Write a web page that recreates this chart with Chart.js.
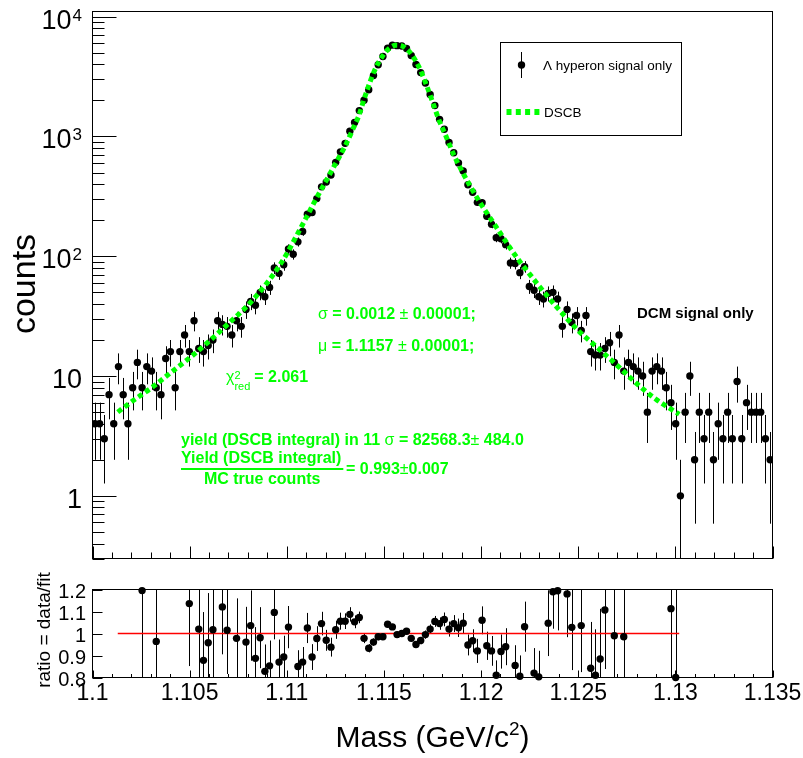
<!DOCTYPE html>
<html>
<head>
<meta charset="utf-8">
<title>Lambda hyperon mass fit</title>
<script src="https://cdn.jsdelivr.net/npm/chart.js@4.4.1/dist/chart.umd.min.js"></script>
<style>
  body { margin: 0; background: #ffffff; }
  #box { position: relative; width: 803px; height: 758px; }
  #box canvas { position: absolute; left: 0; top: 0; }
</style>
</head>
<body>
<div id="box">
  <canvas id="mainPad" width="803" height="758"></canvas>
  <canvas id="ratioPad" width="803" height="758"></canvas>
</div>
<script>
// histogram binning of the mass axis
const massMin = 1.1;
const massMax = 1.135;
const nBins = 144;

// counts per bin
const counts = [
  4, 4, 3, 7, 4, 12, 7, 4, 8, 13,
  8, 12, 11, 8, 7, 14, 16, 8, 16, 22,
  16, 29, 17, 16, 18, 20, 29, 27, 26, 22,
  29, 26, 36, 42, 39, 50, 46, 55, 80, 72,
  85, 115, 104, 132, 161, 224, 232, 303, 380, 416,
  477, 608, 744, 876, 1107, 1307, 1645, 2005, 2454, 3229,
  3965, 4649, 5470, 5789, 5731, 5690, 5424, 4743, 3990, 3414,
  2796, 2244, 1815, 1390, 1149, 890, 732, 602, 515, 396,
  342, 282, 280, 216, 185, 143, 140, 125, 88, 87,
  73, 82, 56, 52, 46, 44, 49, 50, 44, 26,
  36, 28, 32, 24, 32, 16, 15, 15, 17, 19,
  13, 22, 11, 13, 12, 11, 10, 5, 11, 12,
  11, 8, 6, 4, 1, 5, 10, 2, 5, 3,
  5, 2, 4, 3, 5, 3, 9, 3, 6, 5,
  5, 5, 3, 2
];

// data/fit per bin, null where the point is outside the 0.8 - 1.2 window
const ratios = [
  null, null, null, null, null, null, null, null, null, null,
  1.195, null, null, 0.964, null, null, null, null, null, null,
  1.136, null, 1.02, 0.878, 0.958, 1.017, null, 1.121, 1.015, null,
  0.978, null, 0.961, 1.036, 0.887, 0.981, 0.828, 0.853, 1.096, 0.87,
  0.893, 1.029, null, 0.85, 0.87, 1.025, 0.893, 0.977, 1.045, 0.969,
  0.938, 1.017, 1.056, 1.056, 1.087, 1.053, 1.073, 0.978, 0.933, 0.961,
  0.985, 0.985, 1.042, 1.03, 0.995, 1.0, 1.01, 0.978, 0.95, 0.968,
  0.995, 1.02, 1.055, 1.045, 1.064, 1.02, 1.045, 1.026, 1.047, 0.948,
  0.967, 0.921, 1.06, 0.944, 0.921, 0.81, 0.918, 0.94, null, 0.855,
  0.806, 1.031, null, 0.82, 0.803, null, 1.047, 1.19, 1.194, null,
  1.18, 1.028, null, 1.036, null, 0.842, 0.81, 0.884, 1.107, null,
  0.99, null, 0.985, null, null, null, null, null, null, null,
  null, null, 1.113, 0.8, null, null, null, null, null, null,
  null, null, null, null, null, null, null, null, null, null,
  null, null, null, null
];

// DSCB fit curve
const fitMass = [
  1.1013, 1.1020, 1.1030, 1.1040, 1.1050, 1.1060, 1.1070, 1.1080, 1.1088, 1.1095,
  1.1100, 1.1105, 1.1110, 1.1115, 1.1120, 1.1125, 1.1130, 1.1134, 1.1137, 1.1140,
  1.1145, 1.1150, 1.1153, 1.1156, 1.1159, 1.1162, 1.1165, 1.1168, 1.1171, 1.1175,
  1.1178, 1.1182, 1.1186, 1.1190, 1.1195, 1.1200, 1.1205, 1.1210, 1.1215, 1.1220,
  1.1225, 1.1230, 1.1240, 1.1250, 1.1260, 1.1270, 1.1280, 1.1290, 1.1302
];
const fitCounts = [
  5.0, 6.1, 7.9, 10.6, 14.2, 19.5, 27.5, 39, 55, 78,
  105, 148, 210, 300, 420, 590, 830, 1150, 1480, 2100,
  3500, 4880, 5480, 5780, 5720, 5320, 4640, 3810, 2930, 1950,
  1420, 1000, 700, 520, 370, 272, 205, 155, 117, 90,
  71, 56, 36, 24, 17.2, 12.3, 8.7, 6.4, 4.8
];

// tick labels
const xTickValues = [1.1, 1.105, 1.11, 1.115, 1.12, 1.125, 1.13, 1.135];
const xTickLabels = ['1.1', '1.105', '1.11', '1.115', '1.12', '1.125', '1.13', '1.135'];
const countDecades = [0, 1, 2, 3, 4];
const ratioTickValues = [0.8, 0.9, 1, 1.1, 1.2];
const ratioTickLabels = ['0.8', '0.9', '1', '1.1', '1.2'];

const SANS = '"Liberation Sans", Arial, Helvetica, sans-serif';
const GREEN = '#00ff00';
const RED = '#ff0000';
const DOT = 3.7;

const binWidth = (massMax - massMin) / nBins;
const binCenter = k => massMin + (k + 0.5) * binWidth;

const dataPoints = counts.map((c, k) => ({ x: binCenter(k), y: c }));
const fitPoints = fitMass.map((m, i) => ({ x: m, y: fitCounts[i] }));
const ratioPoints = [];
ratios.forEach((r, k) => {
  if (r !== null) ratioPoints.push({ x: binCenter(k), y: r, n: counts[k] });
});

function line(ctx, x1, y1, x2, y2)
{
  ctx.moveTo(x1, y1);
  ctx.lineTo(x2, y2);
}

// draws a run of [text, font] pieces, returns end x
function richText(ctx, x, y, parts)
{
  let cx = x;
  for (const p of parts)
  {
    ctx.font = p[1];
    ctx.fillText(p[0], cx, y);
    cx += ctx.measureText(p[0]).width;
  }
  return cx;
}

const mainDecor =
{
  id: 'mainDecor',
  beforeDatasetsDraw(chart)
  {
    const { ctx, chartArea: a, scales: { x, y } } = chart;
    ctx.save();
    ctx.beginPath();
    ctx.rect(a.left, a.top, a.right - a.left, a.bottom - a.top);
    ctx.clip();
    ctx.strokeStyle = '#000';
    ctx.lineWidth = 1;
    ctx.beginPath();
    dataPoints.forEach(p => {
      const e = Math.sqrt(p.y);
      const px = Math.round(x.getPixelForValue(p.x)) + 0.5;
      const top = y.getPixelForValue(p.y + e);
      const bot = p.y - e > 0 ? y.getPixelForValue(p.y - e) : a.bottom;
      line(ctx, px, top, px, bot);
    });
    ctx.stroke();
    ctx.restore();
  },
  afterDraw(chart)
  {
    const { ctx, chartArea: a, scales: { x, y } } = chart;
    ctx.save();
    ctx.strokeStyle = '#000';
    ctx.lineWidth = 1;
    ctx.strokeRect(a.left, a.top, a.right - a.left, a.bottom - a.top);

    // ticks
    ctx.beginPath();
    for (let i = 0; i <= 35; i++)
    {
      const px = Math.round(x.getPixelForValue(massMin + i * 0.001)) + 0.5;
      line(ctx, px, a.bottom, px, a.bottom - (i % 5 === 0 ? 12 : 6));
    }
    for (let d = -1; d <= 4; d++)
    {
      for (let m = 1; m <= 9; m++)
      {
        const v = m * Math.pow(10, d);
        if (v < y.min || v > y.max) continue;
        const py = Math.round(y.getPixelForValue(v)) + 0.5;
        line(ctx, a.left, py, a.left + (m === 1 ? 24 : 12), py);
      }
    }
    ctx.stroke();

    // y labels
    ctx.fillStyle = '#000';
    ctx.textBaseline = 'alphabetic';
    const labelRight = 82;
    countDecades.forEach(d => {
      const py = y.getPixelForValue(Math.pow(10, d));
      const base = py + 12;
      ctx.textAlign = 'left';
      if (d < 2)
      {
        const t = d === 0 ? '1' : '10';
        ctx.font = '27px ' + SANS;
        ctx.fillText(t, labelRight - ctx.measureText(t).width, base);
      }
      else
      {
        ctx.font = '17px ' + SANS;
        const we = ctx.measureText(String(d)).width;
        ctx.font = '27px ' + SANS;
        const wb = ctx.measureText('10').width;
        ctx.fillText('10', labelRight - we - 1 - wb, base);
        ctx.font = '17px ' + SANS;
        ctx.fillText(String(d), labelRight - we, base - 8);
      }
    });

    // y title
    ctx.save();
    ctx.translate(35, 284);
    ctx.rotate(-Math.PI / 2);
    ctx.textAlign = 'center';
    ctx.font = '34px ' + SANS;
    ctx.fillText('counts', 0, 0);
    ctx.restore();

    // fit results
    const B = 'bold 16px ' + SANS;
    const R = '16px ' + SANS;
    ctx.textAlign = 'left';
    ctx.fillStyle = GREEN;
    richText(ctx, 318, 319, [['σ', R], [' = 0.0012 ', B], ['±', R], [' 0.00001;', B]]);
    richText(ctx, 318, 351, [['μ', R], [' = 1.1157 ', B], ['±', R], [' 0.00001;', B]]);
    ctx.font = R;
    ctx.fillText('χ', 226, 382);
    const cx = 226 + ctx.measureText('χ').width;
    ctx.font = '11px ' + SANS;
    ctx.fillText('2', cx, 379);
    ctx.fillText('red', cx, 390);
    const cEnd = cx + ctx.measureText('red').width + 4;
    ctx.font = B;
    ctx.fillText('= 2.061', cEnd, 382);

    richText(ctx, 181, 445, [['yield (DSCB integral) in 11 ', B], ['σ', R], [' = 82568.3', B], ['±', R], [' 484.0', B]]);
    ctx.font = B;
    const numW = ctx.measureText('Yield (DSCB integral)').width;
    ctx.fillText('Yield (DSCB integral)', 181, 463);
    ctx.textAlign = 'center';
    ctx.fillText('MC true counts', 181 + numW / 2 + 1, 484);
    ctx.textAlign = 'left';
    ctx.fillRect(181, 468, numW + 2, 2);
    richText(ctx, 346, 474, [['= 0.993', B], ['±', R], ['0.007', B]]);

    ctx.fillStyle = '#000';
    ctx.font = 'bold 15px ' + SANS;
    ctx.fillText('DCM signal only', 637, 318);

    // legend box
    ctx.lineWidth = 1;
    ctx.strokeRect(500.5, 42.5, 181, 93);
    ctx.beginPath();
    line(ctx, 521.5, 52, 521.5, 78);
    ctx.stroke();
    ctx.beginPath();
    ctx.arc(521.5, 65, DOT, 0, Math.PI * 2);
    ctx.fill();
    ctx.font = '13.5px ' + SANS;
    ctx.fillText('Λ hyperon signal only', 543, 70);
    ctx.fillText('DSCB', 544, 117);
    ctx.strokeStyle = GREEN;
    ctx.lineWidth = 6;
    ctx.setLineDash([5, 4.3]);
    ctx.beginPath();
    line(ctx, 506.5, 112, 540, 112);
    ctx.stroke();
    ctx.restore();
  }
};

const ratioDecor =
{
  id: 'ratioDecor',
  beforeDatasetsDraw(chart)
  {
    const { ctx, chartArea: a, scales: { x, y } } = chart;
    ctx.save();
    ctx.beginPath();
    ctx.rect(a.left, a.top, a.right - a.left, a.bottom - a.top);
    ctx.clip();
    ctx.strokeStyle = '#000';
    ctx.lineWidth = 1;
    ctx.beginPath();
    ratioPoints.forEach(p => {
      const e = p.y / Math.sqrt(p.n);
      const px = Math.round(x.getPixelForValue(p.x)) + 0.5;
      line(ctx, px, y.getPixelForValue(p.y + e), px, y.getPixelForValue(p.y - e));
    });
    ctx.stroke();
    ctx.restore();
  },
  afterDraw(chart)
  {
    const { ctx, chartArea: a, scales: { x, y } } = chart;
    ctx.save();
    ctx.strokeStyle = '#000';
    ctx.lineWidth = 1;
    ctx.strokeRect(a.left, a.top, a.right - a.left, a.bottom - a.top);
    ctx.beginPath();
    for (let i = 0; i <= 35; i++)
    {
      const px = Math.round(x.getPixelForValue(massMin + i * 0.001)) + 0.5;
      line(ctx, px, a.bottom, px, a.bottom - (i % 5 === 0 ? 7 : 3.5));
    }
    ratioTickValues.forEach(v => {
      const py = Math.round(y.getPixelForValue(v)) + 0.5;
      line(ctx, a.left, py, a.left + 10, py);
    });
    ctx.stroke();

    ctx.fillStyle = '#000';
    ctx.font = '20px ' + SANS;
    ctx.textAlign = 'right';
    ratioTickValues.forEach((v, i) => {
      ctx.fillText(ratioTickLabels[i], 86, y.getPixelForValue(v) + 8);
    });

    ctx.font = '23px ' + SANS;
    ctx.textAlign = 'center';
    xTickValues.forEach((v, i) => {
      ctx.fillText(xTickLabels[i], x.getPixelForValue(v), 700);
    });

    // axis titles
    ctx.save();
    ctx.translate(50, 630);
    ctx.rotate(-Math.PI / 2);
    ctx.font = '19px ' + SANS;
    ctx.fillText('ratio = data/fit', 0, 0);
    ctx.restore();

    ctx.textAlign = 'left';
    const tx = (a.left + a.right) / 2;
    ctx.font = '30px ' + SANS;
    const w1 = ctx.measureText('Mass (GeV/c').width;
    ctx.font = '19px ' + SANS;
    const w2 = ctx.measureText('2').width;
    ctx.font = '30px ' + SANS;
    const w3 = ctx.measureText(')').width;
    const x0 = tx - (w1 + w2 + w3) / 2;
    ctx.fillText('Mass (GeV/c', x0, 747);
    ctx.font = '19px ' + SANS;
    ctx.fillText('2', x0 + w1, 735);
    ctx.font = '30px ' + SANS;
    ctx.fillText(')', x0 + w1 + w2, 747);
    ctx.restore();
  }
};

const mainChart = new Chart(document.getElementById('mainPad'),
{
  type: 'scatter',
  data:
  {
    datasets:
    [
      {
        label: 'DSCB',
        type: 'line',
        data: fitPoints,
        borderColor: GREEN,
        borderWidth: 5,
        borderDash: [5, 3.5],
        pointRadius: 0,
        fill: false,
        cubicInterpolationMode: 'monotone',
        order: 0
      },
      {
        label: 'Λ hyperon signal only',
        data: dataPoints,
        backgroundColor: '#000',
        borderColor: '#000',
        borderWidth: 0,
        pointRadius: DOT,
        order: 1
      }
    ]
  },
  options:
  {
    responsive: false,
    animation: false,
    devicePixelRatio: 1,
    layout: { padding: { left: 92.5, top: 11.5, right: 30.5, bottom: 199.5 } },
    scales:
    {
      x: { type: 'linear', min: massMin, max: massMax, display: false },
      y: { type: 'logarithmic', min: 0.3055, max: 11050, display: false }
    },
    plugins: { legend: { display: false }, tooltip: { enabled: false } }
  },
  plugins: [mainDecor]
});

const ratioChart = new Chart(document.getElementById('ratioPad'),
{
  type: 'scatter',
  data:
  {
    datasets:
    [
      {
        label: 'data/fit',
        data: ratioPoints,
        backgroundColor: '#000',
        borderColor: '#000',
        borderWidth: 0,
        pointRadius: DOT,
        clip: 5,
        order: 0
      },
      {
        label: 'unity',
        type: 'line',
        data: [{ x: fitMass[0], y: 1 }, { x: fitMass[fitMass.length - 1], y: 1 }],
        borderColor: RED,
        backgroundColor: RED,
        borderWidth: 1.4,
        pointRadius: 0,
        showLine: true,
        order: 1
      }
    ]
  },
  options:
  {
    responsive: false,
    animation: false,
    devicePixelRatio: 1,
    layout: { padding: { left: 92.5, top: 589.5, right: 30.5, bottom: 80.5 } },
    scales:
    {
      x: { type: 'linear', min: massMin, max: massMax, display: false },
      y: { type: 'linear', min: 0.8, max: 1.2, display: false }
    },
    plugins: { legend: { display: false }, tooltip: { enabled: false } }
  },
  plugins: [ratioDecor]
});
</script>
</body>
</html>
